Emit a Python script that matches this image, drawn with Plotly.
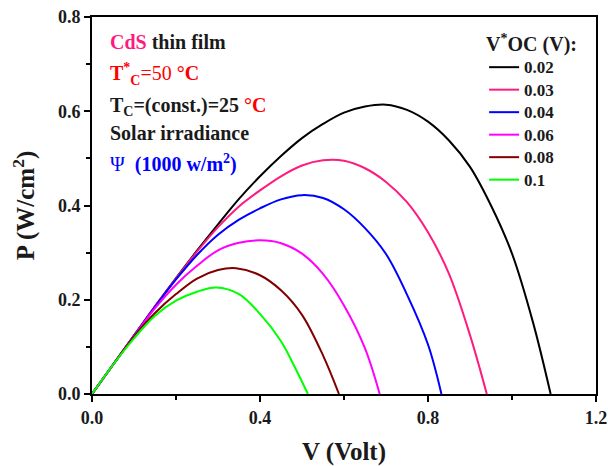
import plotly.graph_objects as go

# ---- data ----
series_names = ["0.02", "0.03", "0.04", "0.06", "0.08", "0.1"]
series_colors = ["#000000", "#ff1a80", "#0000ff", "#ff00ff", "#800000", "#00ff00"]

v_002 = [0.0, 0.05, 0.10, 0.15, 0.20, 0.25, 0.30, 0.35, 0.40, 0.45, 0.50, 0.55, 0.60, 0.65, 0.70, 0.75, 0.80, 0.85, 0.90, 0.95, 1.00, 1.05, 1.092]
p_002 = [0.0, 0.062, 0.124, 0.186, 0.246, 0.304, 0.360, 0.414, 0.462, 0.505, 0.543, 0.573, 0.597, 0.610, 0.614, 0.603, 0.578, 0.538, 0.482, 0.400, 0.298, 0.152, 0.0]

v_003 = [0.0, 0.05, 0.10, 0.15, 0.20, 0.25, 0.30, 0.35, 0.40, 0.45, 0.50, 0.55, 0.60, 0.65, 0.70, 0.75, 0.80, 0.85, 0.90, 0.94]
p_003 = [0.0, 0.062, 0.124, 0.186, 0.245, 0.302, 0.354, 0.398, 0.432, 0.462, 0.485, 0.496, 0.495, 0.479, 0.450, 0.407, 0.343, 0.255, 0.125, 0.0]

v_004 = [0.0, 0.05, 0.10, 0.15, 0.20, 0.25, 0.30, 0.35, 0.40, 0.45, 0.50, 0.55, 0.60, 0.65, 0.70, 0.75, 0.80, 0.832]
p_004 = [0.0, 0.062, 0.124, 0.185, 0.243, 0.295, 0.338, 0.370, 0.394, 0.413, 0.422, 0.416, 0.392, 0.352, 0.297, 0.211, 0.105, 0.0]

v_006 = [0.0, 0.05, 0.10, 0.15, 0.20, 0.25, 0.30, 0.35, 0.40, 0.45, 0.50, 0.55, 0.60, 0.65, 0.685]
p_006 = [0.0, 0.062, 0.123, 0.182, 0.232, 0.272, 0.305, 0.321, 0.326, 0.320, 0.298, 0.255, 0.188, 0.097, 0.0]

v_008 = [0.0, 0.05, 0.10, 0.15, 0.20, 0.25, 0.30, 0.343, 0.40, 0.45, 0.50, 0.55, 0.588]
p_008 = [0.0, 0.062, 0.122, 0.172, 0.212, 0.245, 0.263, 0.267, 0.252, 0.220, 0.168, 0.082, 0.0]

v_01 = [0.0, 0.05, 0.10, 0.15, 0.20, 0.25, 0.296, 0.35, 0.40, 0.45, 0.48, 0.514]
p_01 = [0.0, 0.062, 0.118, 0.166, 0.198, 0.217, 0.226, 0.212, 0.170, 0.112, 0.062, 0.0]

xs = [v_002, v_003, v_004, v_006, v_008, v_01]
ys = [p_002, p_003, p_004, p_006, p_008, p_01]

x_ticks = [0.0, 0.4, 0.8, 1.2]
x_labels = ["0.0", "0.4", "0.8", "1.2"]
y_ticks = [0.0, 0.2, 0.4, 0.6, 0.8]
y_labels = ["0.0", "0.2", "0.4", "0.6", "0.8"]

FONT = "Liberation Serif"
INK = "#1a1a1a"

fig = go.Figure()
for name, col, x, y in zip(series_names, series_colors, xs, ys):
    fig.add_trace(go.Scatter(x=x, y=y, mode="lines",
                             name="<b><span style='font-size:17px'>%s</span></b>" % name,
                             line=dict(color=col, width=2, shape="spline", smoothing=1.0)))

axis_common = dict(showline=True, linecolor="black", linewidth=2, mirror=True,
                   ticks="outside", tickwidth=2, ticklen=6, tickcolor="black",
                   showgrid=False, zeroline=False, automargin=False,
                   tickfont=dict(family=FONT, size=18, color=INK),
                   minor=dict(ticks="outside", ticklen=4, tickwidth=2, tickcolor="black"))

fig.update_xaxes(range=[0, 1.2], tickvals=x_ticks, ticktext=["<b>%s</b>" % t for t in x_labels],
                 minor_dtick=0.2,
                 title=dict(text="<b>V (Volt)</b>", font=dict(family=FONT, size=25, color=INK), standoff=21),
                 **axis_common)
fig.update_yaxes(range=[0, 0.8], tickvals=y_ticks, ticktext=["<b>%s</b>" % t for t in y_labels],
                 minor_dtick=0.1,
                 title=dict(text="<b>P (W/cm<sup>2</sup>)</b>", font=dict(family=FONT, size=25, color=INK), standoff=16),
                 **axis_common)

fig.update_layout(
    width=608, height=466,
    margin=dict(l=92, r=12, t=17, b=72),
    plot_bgcolor="white", paper_bgcolor="white",
    font=dict(family=FONT, color=INK),
    legend=dict(x=0.778, y=0.979, xanchor="left", yanchor="top",
                bgcolor="rgba(0,0,0,0)",
                font=dict(family=FONT, size=15, color=INK),
                title=dict(text="<b>V<sup>*</sup>OC (V):</b>", font=dict(family=FONT, size=20, color=INK)),
                tracegroupgap=0, itemwidth=30),
)

ann = [
    ("<b><span style='color:#ff1a80'>CdS</span> thin film</b>", 0.032, 0.934, 20),
    ("<span style='color:#ff0000'><b>T<sup>*</sup><sub>C</sub></b>=50 <b>°C</b></span>", 0.032, 0.850, 20),
    ("<b>T<sub>C</sub>=(const.)=25 <span style='color:#ff0000'>°C</span></b>", 0.032, 0.762, 20),
    ("<b>Solar irradiance</b>", 0.032, 0.692, 20),
    ("<span style='color:#0000ff'>Ψ  <b>(1000 w/m<sup>2</sup>)</b></span>", 0.032, 0.612, 20),
]
for text, x, y, sz in ann:
    fig.add_annotation(text=text, x=x, y=y, xref="paper", yref="paper",
                       xanchor="left", yanchor="middle", showarrow=False,
                       font=dict(family=FONT, size=sz, color=INK))

fig.write_html("out.html")
